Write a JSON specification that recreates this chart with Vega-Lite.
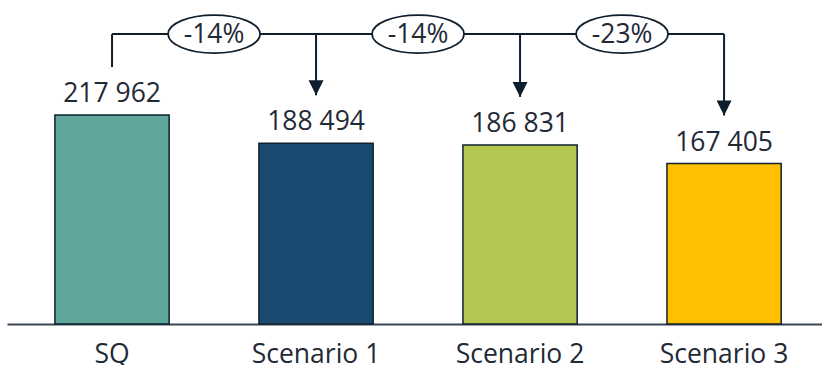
{
  "$schema": "https://vega.github.io/schema/vega-lite/v6.json",
  "autosize": "none",
  "width": 815,
  "height": 324,
  "padding": {"left": 7, "top": 0, "right": 0, "bottom": 41},
  "background": "white",
  "config": {
    "view": {"stroke": null},
    "font": "Open Sans",
    "locale": {"number": {"decimal": ",", "thousands": " ", "grouping": [3], "currency": ["", ""]}}
  },
  "datasets": {
    "bars": [
      {"cat": "SQ", "value": 217962},
      {"cat": "Scenario 1", "value": 188494},
      {"cat": "Scenario 2", "value": 186831},
      {"cat": "Scenario 3", "value": 167405}
    ],
    "changes": [
      {"cat": "SQ", "change": "-14%"},
      {"cat": "Scenario 1", "change": "-14%"},
      {"cat": "Scenario 2", "change": "-23%"}
    ]
  },
  "data": {"name": "bars"},
  "encoding": {
    "x": {
      "field": "cat",
      "type": "nominal",
      "sort": null,
      "scale": {"domain": ["SQ", "Scenario 1", "Scenario 2", "Scenario 3"], "paddingInner": 0.44, "paddingOuter": 0.2175, "align": 0.54},
      "axis": {
        "title": null,
        "labelAngle": 0,
        "labelFont": "Open Sans",
        "labelFontSize": 26.5,
        "labelColor": "#1f2a36",
        "labelBaseline": "alphabetic",
        "labelPadding": 38,
        "ticks": false,
        "tickSize": 0,
        "domainColor": "#3b4654",
        "domainWidth": 2,
        "grid": false
      }
    }
  },
  "layer": [
    {
      "mark": {"type": "bar", "stroke": "#0f2231", "strokeWidth": 1.5},
      "encoding": {
        "y": {"field": "value", "type": "quantitative", "scale": {"domain": [0, 338000], "nice": false}, "axis": null},
        "color": {
          "field": "cat",
          "type": "nominal",
          "scale": {"domain": ["SQ", "Scenario 1", "Scenario 2", "Scenario 3"], "range": ["#5ea59a", "#1a4a6f", "#b2c650", "#ffc000"]},
          "legend": null
        }
      }
    },
    {
      "mark": {"type": "text", "baseline": "alphabetic", "dy": -13, "fontSize": 26.5, "font": "Open Sans", "color": "#1f2a36"},
      "encoding": {
        "y": {"field": "value", "type": "quantitative", "scale": {"domain": [0, 338000], "nice": false}, "axis": null},
        "text": {"field": "value", "type": "quantitative", "format": ",d"}
      }
    },
    {
      "mark": {"type": "line", "color": "#0f1e2c", "strokeWidth": 2},
      "encoding": {
        "y": {"datum": 302440, "type": "quantitative", "scale": {"domain": [0, 338000], "nice": false}, "axis": null}
      }
    },
    {
      "mark": {"type": "rule", "color": "#0f1e2c", "strokeWidth": 2, "yOffset": -48},
      "encoding": {
        "y": {"field": "value", "type": "quantitative", "scale": {"domain": [0, 338000], "nice": false}, "axis": null},
        "y2": {"datum": 302440}
      }
    },
    {
      "transform": [{"filter": "datum.cat !== 'SQ'"}],
      "mark": {"type": "point", "shape": "M-1,-1L1,-1L0,1Z", "size": 225, "filled": true, "color": "#0f1e2c", "opacity": 1, "yOffset": -55.5},
      "encoding": {
        "y": {"field": "value", "type": "quantitative", "scale": {"domain": [0, 338000], "nice": false}, "axis": null}
      }
    },
    {
      "data": {"name": "changes"},
      "mark": {
        "type": "point",
        "shape": "M-1,0C-1,-0.228 -0.552,-0.413 0,-0.413C0.552,-0.413 1,-0.228 1,0C1,0.228 0.552,0.413 0,0.413C-0.552,0.413 -1,0.228 -1,0Z",
        "size": 8464,
        "filled": true,
        "fill": "white",
        "stroke": "#0f1e2c",
        "strokeWidth": 1.8,
        "opacity": 1
      },
      "encoding": {
        "x": {"field": "cat", "type": "nominal", "bandPosition": 1.393},
        "y": {"datum": 302440, "type": "quantitative", "scale": {"domain": [0, 338000], "nice": false}, "axis": null}
      }
    },
    {
      "data": {"name": "changes"},
      "mark": {"type": "text", "baseline": "alphabetic", "dy": 8.5, "fontSize": 26.5, "font": "Open Sans", "color": "#1f2a36"},
      "encoding": {
        "x": {"field": "cat", "type": "nominal", "bandPosition": 1.393},
        "y": {"datum": 302440, "type": "quantitative", "scale": {"domain": [0, 338000], "nice": false}, "axis": null},
        "text": {"field": "change", "type": "nominal"}
      }
    }
  ]
}
